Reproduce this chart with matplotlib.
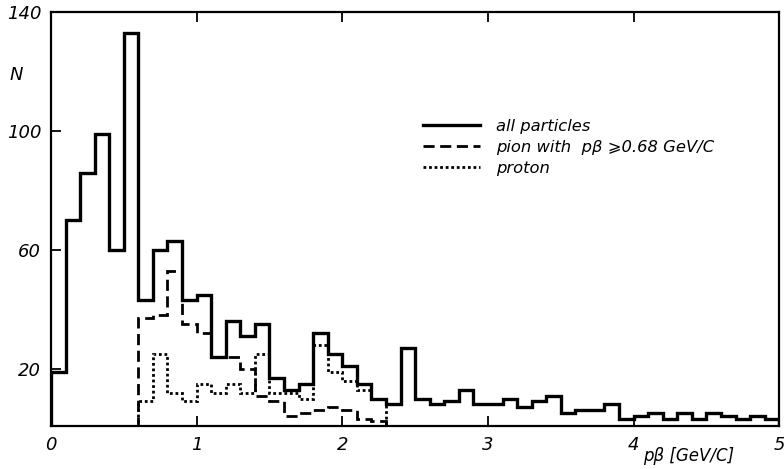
import matplotlib
matplotlib.use("Agg")
import matplotlib.pyplot as plt
import matplotlib.lines as mlines
import numpy as np

# bin width 0.1 GeV/c
all_edges = np.round(np.arange(0, 5.01, 0.1), 2)
all_counts = [19, 70, 86, 99, 60, 133, 43, 60, 63, 43,
              45, 24, 36, 31, 35, 17, 13, 15, 32, 25,
              21, 15, 10, 8, 27, 10, 8, 9, 13, 8,
              8, 10, 7, 9, 11, 5, 6, 6, 8, 3,
              4, 5, 3, 5, 3, 5, 4, 3, 4, 3]

sub_edges = np.round(np.arange(0.6, 2.31, 0.1), 2)
pion_counts = [37, 38, 53, 35, 32, 24, 24, 20, 11, 9,
               4, 5, 6, 7, 6, 3, 2.5]
proton_counts = [9, 25, 12, 9, 15, 12, 15, 12, 25, 12,
                 12, 10, 28, 19, 16, 13, 10]

y_ticks = [20, 60, 100, 140]
x_ticks = [0, 1, 2, 3, 4, 5]

fig = plt.figure(figsize=(7.84, 4.69), dpi=100)
ax = fig.add_axes([0.065, 0.092, 0.929, 0.882])

ax.stairs(proton_counts, sub_edges, color="black", lw=2.0, ls=(0, (1, 1)))
ax.stairs(pion_counts, sub_edges, color="black", lw=2.0, ls=(0, (4, 2)))
ax.stairs(all_counts, all_edges, color="black", lw=2.4)

ax.set_xlim(0, 5)
ax.set_ylim(0.8, 140)
ax.set_xticks(x_ticks)
ax.set_yticks(y_ticks)
ax.set_xticklabels([str(t) for t in x_ticks], fontsize=13, fontstyle="italic")
ax.set_yticklabels([str(t) for t in y_ticks], fontsize=13, fontstyle="italic")
ax.tick_params(direction="in", length=7, width=1.3, top=True, pad=7)
for sp in ax.spines.values():
    sp.set_linewidth(1.6)

fig.text(0.012, 0.83, "N", fontsize=13, fontstyle="italic")
fig.text(0.82, 0.018, "pβ [GeV/C]", fontsize=12, fontstyle="italic")

handles = [
    mlines.Line2D([], [], color="black", lw=2.4, label="all particles"),
    mlines.Line2D([], [], color="black", lw=2.0, ls=(0, (4, 2)),
                  label="pion with  pβ ⩾0.68 GeV/C"),
    mlines.Line2D([], [], color="black", lw=2.0, ls=(0, (1, 1)), label="proton"),
]
ax.legend(handles=handles, loc="upper left", bbox_to_anchor=(0.49, 0.777),
          frameon=False, handlelength=3.5, handletextpad=1.0,
          labelspacing=0.35, prop={"size": 11.8, "style": "italic"})

fig.savefig("out.png", dpi=100)
plt.close(fig)
